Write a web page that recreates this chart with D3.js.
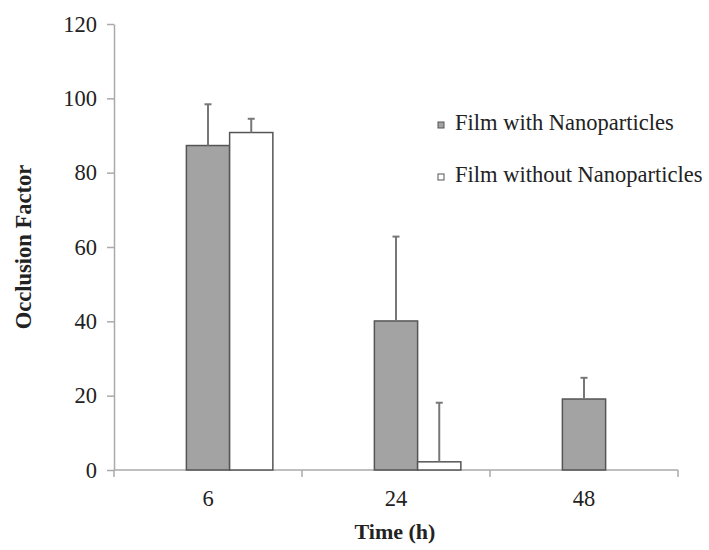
<!DOCTYPE html>
<html>
<head>
<meta charset="utf-8">
<script src="https://cdn.jsdelivr.net/npm/d3@7"></script>
<style>
  html, body { margin: 0; padding: 0; background: #fff; }
  svg { display: block; }
  text { font-family: "Liberation Serif", "Times New Roman", serif; fill: #222; }
</style>
</head>
<body>
<div id="chart"></div>
<script>
// Occlusion factor of films over time
const categories = ["6", "24", "48"];
const seriesNames = ["Film with Nanoparticles", "Film without Nanoparticles"];
const withNano = [87.3, 40.1, 19.1];
const withNanoErr = [11.1, 22.7, 5.7];
const withoutNano = [90.8, 2.2, null];
const withoutNanoErr = [3.7, 15.9, null];
const yTicks = [0, 20, 40, 60, 80, 100, 120];

const W = 709, H = 550;
const plotLeft = 114, plotRight = 678, plotTop = 24, plotBottom = 470;

const svg = d3.select("#chart").append("svg")
  .attr("width", W).attr("height", H);

const x = d3.scaleBand().domain(categories).range([plotLeft, plotRight]).padding(0);
const y = d3.scaleLinear().domain([0, 120]).range([plotBottom, plotTop]);

const barW = x.bandwidth() * 0.23;
const fills = ["#a3a3a3", "#ffffff"];
// first series sits on the category centre, second one directly to its right
const series = [
  { name: seriesNames[0], values: withNano, errs: withNanoErr, offset: 0, fill: fills[0] },
  { name: seriesNames[1], values: withoutNano, errs: withoutNanoErr, offset: 1, fill: fills[1] }
];

// y axis
const yAxis = svg.append("g")
  .attr("transform", `translate(${plotLeft},0)`)
  .call(d3.axisLeft(y).tickValues(yTicks).tickSize(7).tickPadding(10).tickSizeOuter(0));
yAxis.select(".domain").attr("stroke", "#aaa").attr("stroke-width", 1.5);
yAxis.selectAll(".tick line").attr("stroke", "#aaa").attr("stroke-width", 1.5);
yAxis.selectAll(".tick text")
  .style("font-family", '"Liberation Serif", serif')
  .style("font-size", "22.5px").attr("fill", "#222");

// x axis baseline with ticks at category boundaries
svg.append("line")
  .attr("x1", plotLeft).attr("x2", plotRight)
  .attr("y1", y(0)).attr("y2", y(0))
  .attr("stroke", "#aaa").attr("stroke-width", 1.5);
const boundaries = categories.map(c => x(c)).concat([x(categories[categories.length - 1]) + x.bandwidth()]);
svg.selectAll(".xtick").data(boundaries).enter().append("line")
  .attr("x1", d => d).attr("x2", d => d)
  .attr("y1", y(0)).attr("y2", y(0) + 7)
  .attr("stroke", "#aaa").attr("stroke-width", 1.5);
svg.selectAll(".xlabel").data(categories).enter().append("text")
  .attr("x", d => x(d) + x.bandwidth() / 2)
  .attr("y", 506)
  .attr("text-anchor", "middle")
  .style("font-size", "22.5px")
  .text(d => d);

// bars and upper error bars
series.forEach(s => {
  const g = svg.append("g");
  categories.forEach((c, i) => {
    const v = s.values[i];
    if (v == null) return;
    const cx = x(c) + x.bandwidth() / 2 + s.offset * barW;
    g.append("rect")
      .attr("x", cx - barW / 2).attr("y", y(v))
      .attr("width", barW).attr("height", y(0) - y(v))
      .attr("fill", s.fill).attr("stroke", "#555").attr("stroke-width", 1.5);
    const e = s.errs[i];
    if (e == null) return;
    g.append("line")
      .attr("x1", cx).attr("x2", cx)
      .attr("y1", y(v)).attr("y2", y(v + e))
      .attr("stroke", "#777").attr("stroke-width", 2);
    g.append("line")
      .attr("x1", cx - 3.5).attr("x2", cx + 3.5)
      .attr("y1", y(v + e)).attr("y2", y(v + e))
      .attr("stroke", "#777").attr("stroke-width", 2);
  });
});

// legend
const legend = svg.append("g");
series.forEach((s, i) => {
  const ly = 125 + i * 52;
  legend.append("rect")
    .attr("x", 438).attr("y", ly - 3)
    .attr("width", 6).attr("height", 6)
    .attr("fill", s.fill).attr("stroke", "#555").attr("stroke-width", 1);
  legend.append("text")
    .attr("x", 455).attr("y", ly + 5)
    .style("font-size", "22.5px")
    .text(s.name);
});

// axis titles
svg.append("text")
  .attr("transform", `translate(31, 247) rotate(-90)`)
  .attr("text-anchor", "middle")
  .style("font-size", "22.5px").style("font-weight", "bold")
  .text("Occlusion Factor");
svg.append("text")
  .attr("x", 395).attr("y", 539)
  .attr("text-anchor", "middle")
  .style("font-size", "22px").style("font-weight", "bold")
  .text("Time (h)");
</script>
</body>
</html>
